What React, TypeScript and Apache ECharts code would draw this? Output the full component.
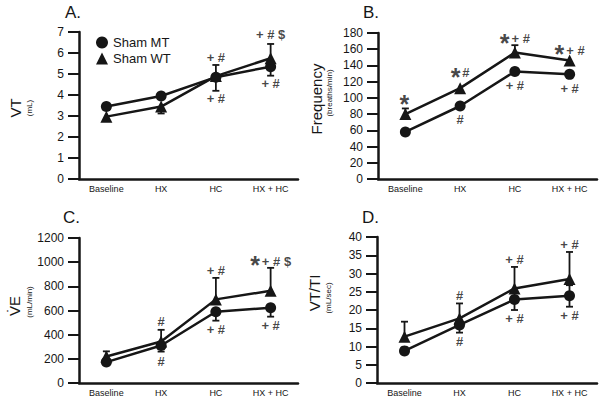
import React, { useEffect, useRef } from "react";
import * as echarts from "echarts";

const categories = ["Baseline", "HX", "HC", "HX + HC"];
const seriesNames = ["Sham MT", "Sham WT"];

// Panel A: VT (mL)
const vtMT = [3.45, 3.95, 4.85, 5.35];
const vtWT = [2.97, 3.45, 4.9, 5.75];
const vtMTErrHigh = [null, null, 5.43, null];
const vtMTErrLow = [null, null, null, 4.92];
const vtWTErrHigh = [null, null, null, 6.43];
const vtWTErrLow = [2.8, 3.12, 4.2, null];
const vtNotes: [number, number, string][] = [
  [2, 5.8, "+ #"], [2, 3.84, "+ #"], [3, 6.86, "+ # $"], [3, 4.56, "+ #"],
];

// Panel B: Frequency (breaths/min)
const frMT = [58, 90, 132.5, 129];
const frWT = [80, 112, 156, 146];
const frMTErrHigh = [null, null, null, null];
const frMTErrLow = [null, null, null, null];
const frWTErrHigh = [87, null, 165, null];
const frWTErrLow = [null, null, null, null];
const frNotes: [number, number, string][] = [
  [0, 98, "*"], [1, 131, "* #"], [2, 173, "* + #"], [3, 158.5, "* + #"],
  [1, 73, "#"], [2, 115, "+ #"], [3, 112, "+ #"],
];

// Panel C: VE (mL/min)
const veMT = [173, 310, 590, 623];
const veWT = [219, 343, 692, 763];
const veMTErrHigh = [null, null, null, null];
const veMTErrLow = [null, 260, 516, 549];
const veWTErrHigh = [262, 440, 870, 953];
const veWTErrLow = [null, null, null, null];
const veNotes: [number, number, string][] = [
  [1, 508, "#"], [1, 178, "#"], [2, 934, "+ #"], [2, 440, "+ #"],
  [3, 1008, "* + # $"], [3, 480, "+ #"],
];

// Panel D: VT/TI (mL/sec)
const vtiMT = [8.8, 15.9, 22.9, 23.9];
const vtiWT = [12.7, 17.7, 25.9, 28.5];
const vtiMTErrHigh = [null, null, null, 26.8];
const vtiMTErrLow = [null, 13.8, 20, 20.9];
const vtiWTErrHigh = [16.8, 21.8, 31.8, 35.9];
const vtiWTErrLow = [null, null, null, null];
const vtiNotes: [number, number, string][] = [
  [1, 24, "#"], [1, 11.4, "#"], [2, 33.8, "+ #"], [2, 17.7, "+ #"],
  [3, 38, "+ #"], [3, 18.6, "+ #"],
];

const yMax = [7, 180, 1200, 40];
const yInterval = [1, 20, 200, 5];

const FONT = "'Liberation Sans', Arial, sans-serif";
const INK = "#161616";

const panels = [
  { mt: vtMT, wt: vtWT, mtHi: vtMTErrHigh, mtLo: vtMTErrLow, wtHi: vtWTErrHigh, wtLo: vtWTErrLow, notes: vtNotes },
  { mt: frMT, wt: frWT, mtHi: frMTErrHigh, mtLo: frMTErrLow, wtHi: frWTErrHigh, wtLo: frWTErrLow, notes: frNotes },
  { mt: veMT, wt: veWT, mtHi: veMTErrHigh, mtLo: veMTErrLow, wtHi: veWTErrHigh, wtLo: veWTErrLow, notes: veNotes },
  { mt: vtiMT, wt: vtiWT, mtHi: vtiMTErrHigh, mtLo: vtiMTErrLow, wtHi: vtiWTErrHigh, wtLo: vtiWTErrLow, notes: vtiNotes },
];

const grids = [
  { left: 79, top: 32, width: 219, height: 147 },
  { left: 378, top: 33, width: 219, height: 146 },
  { left: 79, top: 238, width: 219, height: 145 },
  { left: 377, top: 237, width: 220, height: 146 },
];

function errData(vals: number[], ends: (number | null)[]) {
  const out: number[][] = [];
  ends.forEach((e, i) => {
    if (e != null) out.push([i, vals[i], e]);
  });
  return out;
}

function renderErr(params: any, api: any) {
  const x = api.value(0);
  const p0 = api.coord([x, api.value(1)]);
  const p1 = api.coord([x, api.value(2)]);
  const cw = 3.5;
  return {
    type: "group",
    children: [
      { type: "line", shape: { x1: p0[0], y1: p0[1], x2: p1[0], y2: p1[1] }, style: { stroke: INK, lineWidth: 1.8 } },
      { type: "line", shape: { x1: p1[0] - cw, y1: p1[1], x2: p1[0] + cw, y2: p1[1] }, style: { stroke: INK, lineWidth: 1.8 } },
    ],
  };
}

function noteText(t: string) {
  return t.replace(/\* ?/g, "{s|*}");
}

function rotText(text: string, x: number, y: number, size: number) {
  return {
    type: "text",
    x,
    y,
    rotation: Math.PI / 2,
    style: { text, fontSize: size, fontFamily: FONT, fill: INK, align: "center", verticalAlign: "middle" },
  };
}

function plainText(text: string, x: number, y: number, size: number) {
  return {
    type: "text",
    x,
    y,
    style: { text, fontSize: size, fontFamily: FONT, fill: INK, align: "left", verticalAlign: "top" },
  };
}

export default function App() {
  const ref = useRef<HTMLDivElement>(null);
  useEffect(() => {
    if (!ref.current) return;
    const chart = echarts.init(ref.current, undefined, { renderer: "svg" });
    const series: any[] = [];
    panels.forEach((p, k) => {
      series.push({
        type: "custom", xAxisIndex: k, yAxisIndex: k, z: 1, renderItem: renderErr,
        data: [...errData(p.mt, p.mtHi), ...errData(p.mt, p.mtLo), ...errData(p.wt, p.wtHi), ...errData(p.wt, p.wtLo)],
        silent: true,
      });
      series.push({
        name: seriesNames[0], type: "line", xAxisIndex: k, yAxisIndex: k, data: p.mt, z: 3,
        symbol: "circle", symbolSize: 11, color: INK,
        lineStyle: { color: INK, width: 2.5 }, itemStyle: { color: INK },
      });
      series.push({
        name: seriesNames[1], type: "line", xAxisIndex: k, yAxisIndex: k, data: p.wt, z: 3,
        symbol: "triangle", symbolSize: 12, color: INK,
        lineStyle: { color: INK, width: 2.5 }, itemStyle: { color: INK },
      });
      series.push({
        type: "scatter", xAxisIndex: k, yAxisIndex: k, z: 4, symbolSize: 1, silent: true,
        itemStyle: { color: "transparent" },
        data: p.notes,
        label: {
          show: true, position: "inside",
          formatter: (d: any) => noteText(d.data[2]),
          fontSize: 13, fontWeight: "bold", fontFamily: FONT, color: INK,
          rich: { s: { fontSize: 25, fontWeight: "bold", fontFamily: FONT, color: INK, padding: [8, 2, 0, 0] } },
        },
      });
    });

    const option: any = {
      animation: false,
      backgroundColor: "#ffffff",
      grid: grids,
      legend: {
        data: [{ name: "Sham MT", icon: "circle" }, { name: "Sham WT", icon: "triangle" }],
        orient: "vertical", left: 91, top: 31, itemWidth: 12, itemHeight: 12, itemGap: 3,
        textStyle: { fontSize: 13, fontFamily: FONT, color: INK },
        selectedMode: false,
      },
      xAxis: grids.map((_, k) => ({
        type: "category", gridIndex: k, data: categories, boundaryGap: true,
        axisLine: { lineStyle: { color: INK, width: 2.5 } },
        axisTick: { show: false },
        axisLabel: { fontSize: 9, fontFamily: FONT, color: INK, margin: 5 },
        splitLine: { show: false },
      })),
      yAxis: grids.map((_, k) => ({
        type: "value", gridIndex: k, min: 0, max: yMax[k], interval: yInterval[k],
        axisLine: { show: true, lineStyle: { color: INK, width: 2.5 } },
        axisTick: { show: true, length: 11, lineStyle: { color: INK, width: 2 } },
        axisLabel: { fontSize: 12, fontFamily: FONT, color: INK, margin: 15, formatter: (v: number) => String(v) },
        splitLine: { show: false },
      })),
      graphic: [
        plainText("A.", 65, 4, 17),
        plainText("B.", 363, 4, 17),
        plainText("C.", 63, 209, 17),
        plainText("D.", 362, 209, 17),
        rotText("VT", 15, 108, 15),
        rotText("(mL)", 29, 108, 8),
        rotText("Frequency", 316, 99, 15),
        rotText("(breaths/min)", 329, 93, 8),
        rotText("V\u0307E", 14, 306, 15),
        rotText("(mL/min)", 29, 302, 8),
        rotText("VT/TI", 314, 293, 15),
        rotText("(mL/sec)", 328, 298, 8),
      ],
      series,
    };
    chart.setOption(option);
    return () => chart.dispose();
  }, []);
  return (
    <div
      ref={ref}
      style={{ position: "fixed", left: 0, top: 0, width: 600, height: 403, background: "#fff" }}
    />
  );
}
